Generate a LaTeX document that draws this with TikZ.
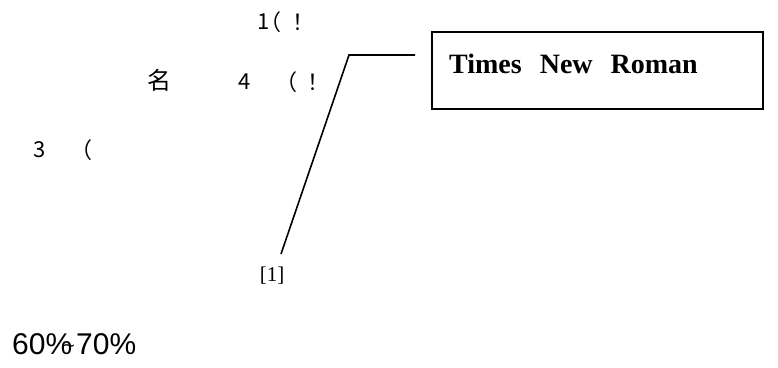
\documentclass[tikz,border=0pt]{standalone}
\usepackage{fontspec}
\setmainfont{Liberation Serif}
\newfontfamily\cjk{Noto Sans CJK SC}
\newfontfamily\arialf{Liberation Sans}
\begin{document}
\begin{tikzpicture}[x=1pt,y=-1pt,
  cj/.style={font=\cjk\fontsize{22}{22}\selectfont, inner sep=0pt, anchor=center},
  pc/.style={font=\arialf\fontsize{30}{30}\selectfont, inner sep=0pt},
  lead/.style={line width=1.6pt},
  frame/.style={draw, line width=2pt}]
\useasboundingbox (0,0) rectangle (778,367);
% CJK-like fragments
\node[cj] (a1) at (264,22) {1};
\node[cj] (a2) at (270,22) {（};
\node[cj] (a3) at (303,22) {！};
\node[cj, font=\cjk\fontsize{24}{24}\selectfont] (b1) at (159,80) {名};
\node[cj] (b2) at (245,82) {4};
\node[cj] (b3) at (286,82) {（};
\node[cj] (b4) at (318,82) {！};
\node[cj] (c1) at (40,150) {3};
\node[cj] (c2) at (81,150) {（};
% box
\node[frame, minimum width=331pt, minimum height=77pt, inner sep=0pt] (box) at (597,70) {};
\node[font=\bfseries\fontsize{28}{28}\selectfont, anchor=base west, inner sep=0pt] (tnr) at (449,73) {Times\hspace{18pt}New\hspace{18pt}Roman};
% leader line
\coordinate (l1) at (415,55);
\coordinate (l2) at (349,55);
\node[font=\fontsize{21}{21}\selectfont, inner sep=0pt] (ref) at (272,276) {[1]};
\coordinate (l3) at (281,254);
\draw[lead] (l1) -- (l2) -- (l3);
% bottom text
\node[pc, anchor=base west] (p1) at (12,354) {60\%};
\node[pc, anchor=base west] (p2) at (76,354) {70\%};
\node[font=\arialf\fontsize{20}{20}\selectfont, inner sep=0pt] (tl) at (69,349) {\textasciitilde};
\end{tikzpicture}
\end{document}
